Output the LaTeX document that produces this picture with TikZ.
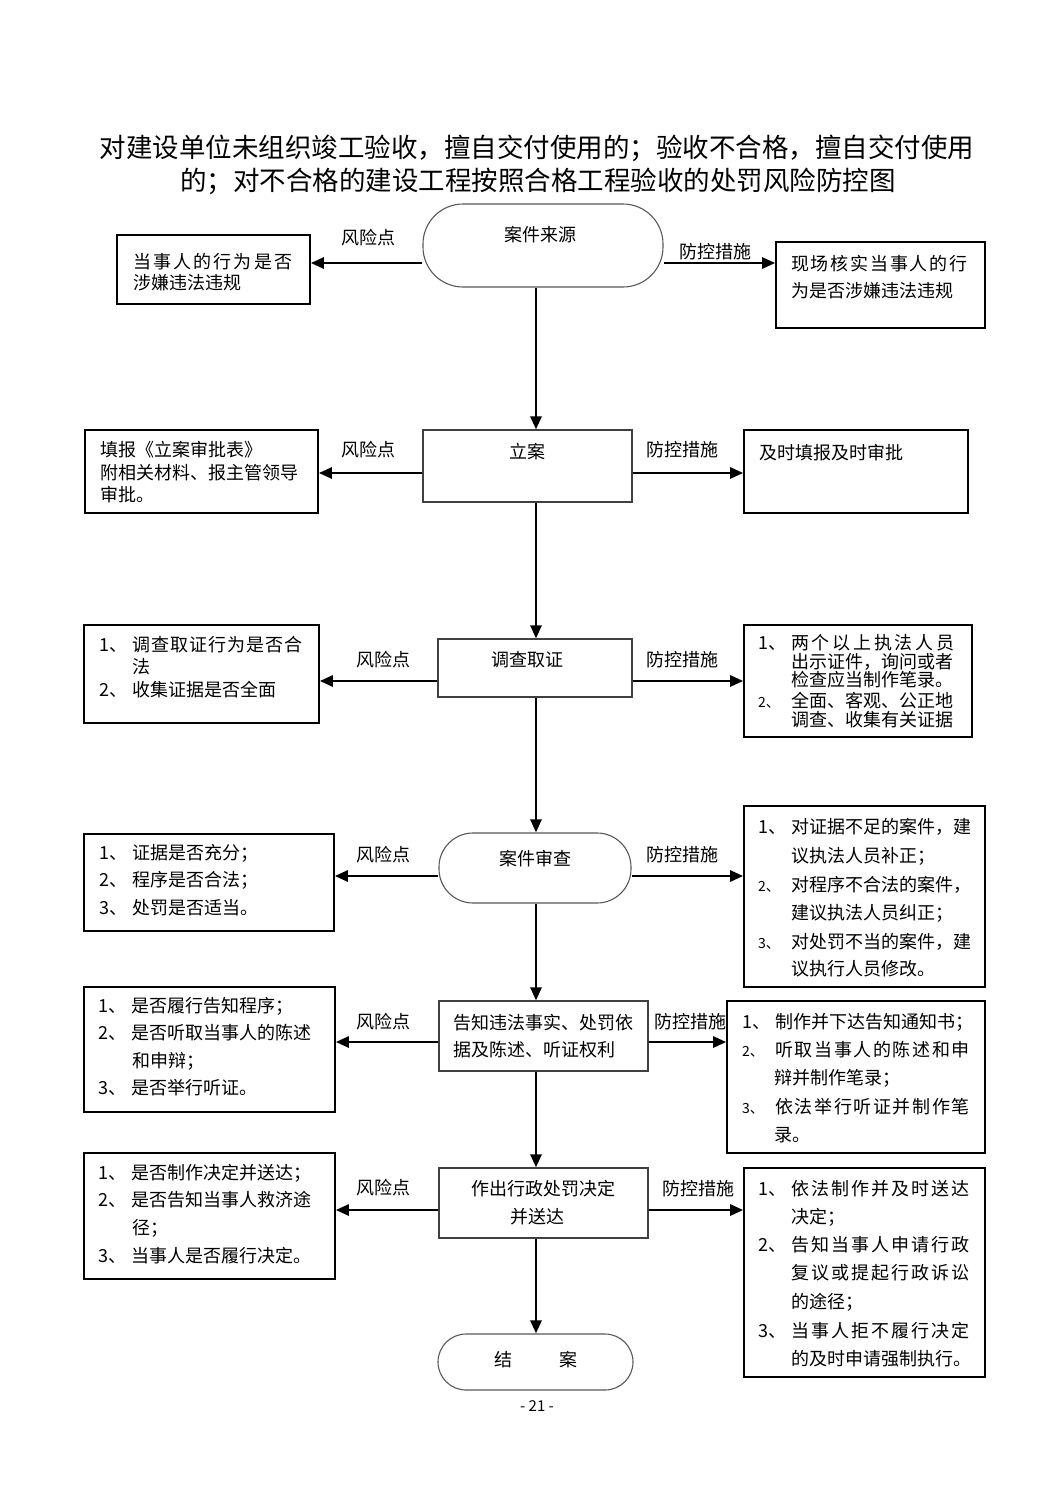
\documentclass[tikz,border=0pt]{standalone}
\usepackage{fontspec}
\setmainfont{Noto Sans CJK SC}
\usetikzlibrary{arrows.meta,fit}
\tikzset{
 box/.style={draw=black, line width=1.6pt, inner sep=0pt},
 cbox/.style={draw=black!75, line width=1.1pt, inner sep=0pt},
 stad/.style={draw=black!65, line width=1.1pt, inner sep=0pt, rounded corners=#1},
 arr/.style={line width=2.6pt, -{Triangle[length=13pt,width=11pt]}},
 txtc/.style={inner sep=0pt, font=\fontsize{18}{22}\selectfont, text height=15.5pt, text depth=2.5pt},
 txtl/.style={txtc, anchor=west},
 titl/.style={inner sep=0pt, font=\fontsize{26.5}{30}\selectfont},
}
\newcommand\Ln[4]{\node[txtl] (#1) at (#2,#3) {#4};}
\newcommand\Nm[1]{\makebox[33pt][l]{#1}}
\newcommand\Ns[1]{\makebox[33pt][l]{\fontsize{14}{16}\selectfont #1}}
\newcommand\Sp[1]{\addfontfeature{LetterSpace=#1}}
\begin{document}
\begin{tikzpicture}[x=1pt,y=-1pt]
\useasboundingbox (0,0) rectangle (1063,1502);
\fill[white] (0,0) rectangle (1063,1502);
% title
\node[titl] (title1) at (537,148) {对建设单位未组织竣工验收，擅自交付使用的；验收不合格，擅自交付使用};
\node[titl] (title2) at (538,181) {的；对不合格的建设工程按照合格工程验收的处罚风险防控图};
\coordinate (cx) at (536,0);
% ---------- row 1
\node[stad=40pt, fit={(423,204) (663,287)}] (s1) {};
\node[txtc] (t1) at (540,235) {案件来源};
\node[box, fit={(117,235) (310,304)}] (l1) {};
\Ln{l1a}{133}{262}{\Sp{12}当事人的行为是否}
\Ln{l1b}{133}{283}{涉嫌违法违规}
\node[box, fit={(776,242) (985,328)}] (r1) {};
\Ln{r1a}{791}{264}{\Sp{10}现场核实当事人的行}
\Ln{r1b}{791}{291}{为是否涉嫌违法违规}
\draw[arr] (s1.west |- 0,263) -- (l1.east |- 0,263);
\draw[arr] (s1.east |- 0,263) -- (r1.west |- 0,263);
\node[txtc] (k1) at (368,238) {风险点};
\node[txtc] (f1) at (715,252) {防控措施};
% ---------- row 2
\node[cbox, fit={(423,430) (632,502)}] (b2) {};
\node[txtc] (t2) at (527,452) {立案};
\node[box, fit={(85,430) (318,513)}] (l2) {};
\Ln{l2a}{100}{450}{填报《立案审批表》}
\Ln{l2b}{100}{473}{附相关材料、报主管领导}
\Ln{l2c}{100}{495}{审批。}
\node[box, fit={(744,430) (968,513)}] (r2) {};
\Ln{r2a}{759}{453}{及时填报及时审批}
\draw[arr] (b2.west |- 0,473) -- (l2.east |- 0,473);
\draw[arr] (b2.east |- 0,473) -- (r2.west |- 0,473);
\node[txtc] (k2) at (368,450) {风险点};
\node[txtc] (f2) at (682,450) {防控措施};
% ---------- row 3
\node[cbox, fit={(438,639) (632,697)}] (b3) {};
\node[txtc] (t3) at (527,660) {调查取证};
\node[box, fit={(84,625) (319,723)}] (l3) {};
\Ln{l3a}{99}{645}{\Nm{1、}{\Sp{6}调查取证行为是否合}}
\Ln{l3b}{132}{667}{法}
\Ln{l3c}{99}{690}{\Nm{2、}收集证据是否全面}
\node[box, fit={(744,625) (972,737)}] (r3) {};
\Ln{r3a}{758}{643}{\Nm{1、}{\Sp{15}两个以上执法人员}}
\Ln{r3b}{791}{662}{出示证件，询问或者}
\Ln{r3c}{791}{680}{检查应当制作笔录。}
\Ln{r3d}{758}{701}{\Ns{2、}全面、客观、公正地}
\Ln{r3e}{791}{720}{调查、收集有关证据}
\draw[arr] (b3.west |- 0,681) -- (l3.east |- 0,681);
\draw[arr] (b3.east |- 0,681) -- (r3.west |- 0,681);
\node[txtc] (k3) at (383,660) {风险点};
\node[txtc] (f3) at (682,660) {防控措施};
% ---------- row 4
\node[stad=34pt, fit={(439,833) (631,903)}] (s4) {};
\node[txtc] (t4) at (535,859) {案件审查};
\node[box, fit={(84,834) (334,931)}] (l4) {};
\Ln{l4a}{99}{853}{\Nm{1、}证据是否充分；}
\Ln{l4b}{99}{880}{\Nm{2、}程序是否合法；}
\Ln{l4c}{99}{908}{\Nm{3、}处罚是否适当。}
\node[box, fit={(744,806) (985,987)}] (r4) {};
\Ln{r4a}{758}{827}{\Nm{1、}对证据不足的案件，建}
\Ln{r4b}{791}{856}{议执法人员补正；}
\Ln{r4c}{758}{885}{\Ns{2、}对程序不合法的案件，}
\Ln{r4d}{791}{913}{建议执法人员纠正；}
\Ln{r4e}{758}{942}{\Ns{3、}对处罚不当的案件，建}
\Ln{r4f}{791}{969}{议执行人员修改。}
\draw[arr] (s4.west |- 0,876) -- (l4.east |- 0,876);
\draw[arr] (s4.east |- 0,876) -- (r4.west |- 0,876);
\node[txtc] (k4) at (383,855) {风险点};
\node[txtc] (f4) at (682,855) {防控措施};
% ---------- row 5
\node[cbox, fit={(439,1001) (648,1071)}] (b5) {};
\Ln{t5a}{453}{1023}{告知违法事实、处罚依}
\Ln{t5b}{453}{1050}{据及陈述、听证权利}
\node[box, fit={(84,987) (335,1112)}] (l5) {};
\Ln{l5a}{98}{1006}{\Nm{1、}是否履行告知程序；}
\Ln{l5b}{98}{1033}{\Nm{2、}是否听取当事人的陈述}
\Ln{l5c}{132}{1061}{和申辩；}
\Ln{l5d}{98}{1088}{\Nm{3、}是否举行听证。}
\node[box, fit={(727,1001) (985,1153)}] (r5) {};
\Ln{r5a}{742}{1022}{\Nm{1、}制作并下达告知通知书；}
\Ln{r5b}{742}{1050}{\Ns{2、}{\Sp{9}听取当事人的陈述和申}}
\Ln{r5c}{774}{1078}{辩并制作笔录；}
\Ln{r5d}{742}{1107}{\Ns{3、}{\Sp{9}依法举行听证并制作笔}}
\Ln{r5e}{774}{1135}{录。}
\draw[arr] (b5.west |- 0,1042) -- (l5.east |- 0,1042);
\draw[arr] (b5.east |- 0,1042) -- (r5.west |- 0,1042);
\node[txtc] (k5) at (383,1022) {风险点};
\node[txtc] (f5) at (690,1022) {防控措施};
% ---------- row 6
\node[cbox, fit={(439,1168) (648,1238)}] (b6) {};
\node[txtc] (t6a) at (543,1189) {作出行政处罚决定};
\node[txtc] (t6b) at (537,1217) {并送达};
\node[box, fit={(84,1153) (335,1279)}] (l6) {};
\Ln{l6a}{98}{1173}{\Nm{1、}是否制作决定并送达；}
\Ln{l6b}{98}{1200}{\Nm{2、}是否告知当事人救济途}
\Ln{l6c}{132}{1228}{径；}
\Ln{l6d}{98}{1256}{\Nm{3、}当事人是否履行决定。}
\node[box, fit={(744,1168) (985,1377)}] (r6) {};
\Ln{r6a}{758}{1189}{\Nm{1、}{\Sp{11}依法制作并及时送达}}
\Ln{r6b}{791}{1217}{决定；}
\Ln{r6c}{758}{1245}{\Nm{2、}{\Sp{11}告知当事人申请行政}}
\Ln{r6d}{791}{1273}{{\Sp{11}复议或提起行政诉讼}}
\Ln{r6e}{791}{1302}{的途径；}
\Ln{r6f}{758}{1331}{\Nm{3、}{\Sp{11}当事人拒不履行决定}}
\Ln{r6g}{791}{1359}{的及时申请强制执行。}
\draw[arr] (b6.west |- 0,1210) -- (l6.east |- 0,1210);
\draw[arr] (b6.east |- 0,1210) -- (r6.west |- 0,1210);
\node[txtc] (k6) at (383,1188) {风险点};
\node[txtc] (f6) at (698,1189) {防控措施};
% ---------- end
\node[stad=28pt, fit={(438,1334) (633,1390)}] (s7) {};
\node[txtc] (t7a) at (503,1360) {结};
\node[txtc] (t7b) at (568,1360) {案};
% vertical flow
\draw[arr] (s1.south -| cx) -- (b2.north -| cx);
\draw[arr] (b2.south -| cx) -- (b3.north -| cx);
\draw[arr] (b3.south -| cx) -- (s4.north -| cx);
\draw[arr] (s4.south -| cx) -- (b5.north -| cx);
\draw[arr] (b5.south -| cx) -- (b6.north -| cx);
\draw[arr] (b6.south -| cx) -- (s7.north -| cx);
% page number
\node[inner sep=0pt, font=\fontsize{15}{18}\selectfont] (pg) at (537,1406) {- 21 -};
\end{tikzpicture}
\end{document}
